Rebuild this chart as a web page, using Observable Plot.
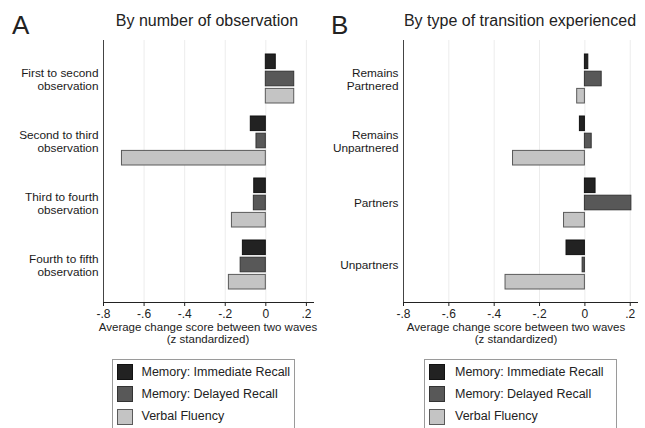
<!DOCTYPE html>
<html>
<head>
<meta charset="utf-8">
<script src="https://cdn.jsdelivr.net/npm/d3@7"></script>
<script src="https://cdn.jsdelivr.net/npm/@observablehq/plot@0.6"></script>
<style>
  html, body { margin: 0; padding: 0; background: #fff; overflow: hidden; }
  #root { position: relative; width: 645px; height: 428px; font-family: "Liberation Sans", Arial, sans-serif; color: #222; }
  .abs { position: absolute; white-space: nowrap; line-height: 1; }
  .legend { position: absolute; border: 1px solid #9a9a9a; background: #fff; }
  .sw { position: absolute; width: 14px; height: 14px; border: 1px solid #555; }
  .lt { position: absolute; font-size: 12.5px; line-height: 1; white-space: nowrap; }
</style>
</head>
<body>
<div id="root"></div>
<script>
// ---- data ----
const series = ["Memory: Immediate Recall", "Memory: Delayed Recall", "Verbal Fluency"];
const seriesFill = ["#222222", "#585858", "#c4c4c4"];
const seriesStroke = ["#111111", "#333333", "#5a5a5a"];

const labelsA = ["First to second\nobservation", "Second to third\nobservation", "Third to fourth\nobservation", "Fourth to fifth\nobservation"];
const immediateA = [0.049, -0.074, -0.057, -0.113];
const delayedA   = [0.140, -0.046, -0.059, -0.124];
const verbalA    = [0.140, -0.709, -0.167, -0.182];

const labelsB = ["Remains\nPartnered", "Remains\nUnpartnered", "Partners", "Unpartners"];
const immediateB = [0.015, -0.022, 0.047, -0.081];
const delayedB   = [0.074, 0.030, 0.205, -0.010];
const verbalB    = [-0.034, -0.317, -0.092, -0.350];

const xTicks = [-0.8, -0.6, -0.4, -0.2, 0, 0.2];
const xTickLabels = ["-.8", "-.6", "-.4", "-.2", "0", ".2"];

const titleA = "By number of observation";
const titleB = "By type of transition experienced";
const axisTitle1 = "Average change score between two waves";
const axisTitle2 = "(z standardized)";

// ---- drawing ----
const root = document.getElementById("root");

function rows(labels, values) {
  return labels.map((g, i) => ({group: g, value: values[i]}));
}

function panel({labels, imm, del, ver, left, width, marginLeft, marginRight, xMax}) {
  const bh = 15, step = 17.2;
  const bw = 49.4;
  const insets = [[0, bw - bh], [step, bw - bh - step], [2 * step, 0]];
  const sets = [imm, del, ver];
  const marks = [
    Plot.ruleX(xTicks.filter(d => d > -0.8), {stroke: "#ececec", strokeWidth: 1}),
    ...sets.map((vals, k) => Plot.barX(rows(labels, vals), {
      x: "value", y: "group",
      fill: seriesFill[k], stroke: seriesStroke[k], strokeWidth: 1,
      insetTop: insets[k][0], insetBottom: insets[k][1]
    })),
    Plot.ruleX([-0.8], {stroke: "#444", strokeWidth: 1}),
    Plot.text(labels, {
      y: d => d, text: d => d, frameAnchor: "left", textAnchor: "end",
      dx: -5, fontSize: 11.8, lineHeight: 1.15, fill: "#1a1a1a"
    })
  ];
  const chart = Plot.plot({
    width, height: 350,
    marginLeft, marginRight, marginTop: 40, marginBottom: 48,
    style: {fontSize: "12px", fontFamily: "Liberation Sans, Arial, sans-serif", color: "#222", background: "transparent"},
    x: {domain: [-0.8, xMax], ticks: xTicks, tickFormat: d => xTickLabels[xTicks.findIndex(t => Math.abs(t - d) < 1e-9)], tickSize: 4, tickPadding: 3, line: true, label: null},
    y: {domain: labels, paddingInner: 0.21, paddingOuter: 0.2, axis: null},
    marks
  });
  chart.style.position = "absolute";
  chart.style.left = left + "px";
  chart.style.top = "0px";
  root.appendChild(chart);
}

panel({labels: labelsA, imm: immediateA, del: delayedA, ver: verbalA, left: 0, width: 322, marginLeft: 103, marginRight: 9, xMax: 0.235});
panel({labels: labelsB, imm: immediateB, del: delayedB, ver: verbalB, left: 320, width: 325, marginLeft: 83, marginRight: 8, xMax: 0.232});

function addText(txt, x, top, size, anchor) {
  const d = document.createElement("div");
  d.className = "abs";
  d.textContent = txt;
  d.style.fontSize = size + "px";
  d.style.top = top + "px";
  d.style.left = x + "px";
  if (anchor === "middle") d.style.transform = "translateX(-50%)";
  root.appendChild(d);
}

addText("A", 12, 12.3, 26);
addText("B", 331, 12.3, 26);
addText(titleA, 207, 12.9, 16, "middle");
addText(titleB, 520, 12.9, 16, "middle");
addText(axisTitle1, 208, 322.3, 11.5, "middle");
addText(axisTitle2, 208, 333.8, 11.5, "middle");
addText(axisTitle1, 516, 322.3, 11.5, "middle");
addText(axisTitle2, 516, 333.8, 11.5, "middle");

function legend(left, width, swLeft, textLeft) {
  const box = document.createElement("div");
  box.className = "legend";
  box.style.left = left + "px";
  box.style.top = "359px";
  box.style.width = width + "px";
  box.style.height = "90px";
  root.appendChild(box);
  series.forEach((s, i) => {
    const sw = document.createElement("div");
    sw.className = "sw";
    sw.style.left = (swLeft - left - 1) + "px";
    sw.style.top = (4 + i * 22.4) + "px";
    sw.style.background = seriesFill[i];
    sw.style.borderColor = seriesStroke[i];
    box.appendChild(sw);
    const t = document.createElement("div");
    t.className = "lt";
    t.textContent = s;
    t.style.left = (textLeft - left - 1) + "px";
    t.style.top = (5.5 + i * 22.4) + "px";
    box.appendChild(t);
  });
}
legend(112, 181, 117, 141.5);
legend(424, 191, 429, 455);
</script>
</body>
</html>
